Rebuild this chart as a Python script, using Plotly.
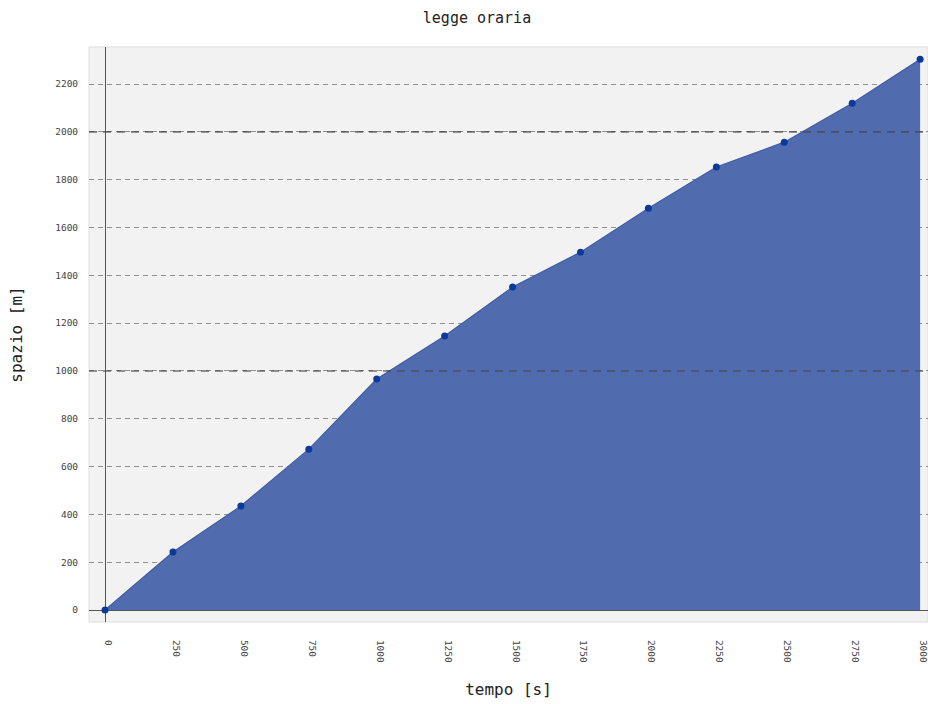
import plotly.graph_objects as go

tempo = [0, 250, 500, 750, 1000, 1250, 1500, 1750, 2000, 2250, 2500, 2750, 3000]
spazio = [0, 243, 435, 673, 966, 1146, 1351, 1497, 1681, 1853, 1957, 2120, 2304]
x_ticks = [0, 250, 500, 750, 1000, 1250, 1500, 1750, 2000, 2250, 2500, 2750, 3000]
y_ticks = [0, 200, 400, 600, 800, 1000, 1200, 1400, 1600, 1800, 2000, 2200]
major_lines = [1000, 2000]

mono = "DejaVu Sans Mono"
W, H = 928, 704

fig = go.Figure()
fig.add_trace(go.Scatter(
    x=tempo, y=spazio, mode="lines+markers",
    fill="tozeroy", fillcolor="rgb(80,108,174)",
    line=dict(color="rgb(62,92,168)", width=1.2),
    marker=dict(color="rgb(12,58,156)", size=7),
    showlegend=False, cliponaxis=False,
))

shapes = []
for v in major_lines:
    shapes.append(dict(type="line", xref="paper", x0=0, x1=1, yref="y", y0=v, y1=v,
                       line=dict(color="rgba(70,70,70,0.75)", width=1.6, dash="8px,6px"),
                       layer="above"))

fig.update_layout(
    width=W, height=H,
    margin=dict(l=89, r=0, t=47, b=82, autoexpand=False),
    paper_bgcolor="white", plot_bgcolor="rgb(242,242,242)",
    title=dict(text="legge oraria", x=477 / W, xanchor="center", xref="container",
               y=1 - 18 / H, yanchor="middle", yref="container",
               font=dict(family=mono, size=15, color="#222")),
    shapes=shapes,
)
fig.update_xaxes(
    range=[-59, 3029], tickvals=x_ticks, ticktext=[str(v) for v in x_ticks],
    tickangle=90, tickfont=dict(family=mono, size=9.5, color="#444"),
    ticklabelshift=3, ticklabeloverflow="allow",
    showgrid=False, zeroline=True, zerolinecolor="#555", zerolinewidth=1.2,
    ticks="outside", ticklen=15, tickcolor="rgba(0,0,0,0)",
    showline=False, layer="above traces", automargin=False,
    title=dict(text="tempo [s]", font=dict(family=mono, size=16, color="#222"), standoff=21),
)
fig.update_yaxes(
    range=[-50, 2355], tickvals=y_ticks, ticktext=[str(v) for v in y_ticks],
    tickfont=dict(family=mono, size=9.5, color="#444"),
    showgrid=True, gridcolor="rgba(120,120,120,0.8)", griddash="5px,4px", gridwidth=1,
    zeroline=True, zerolinecolor="#555", zerolinewidth=1.2,
    ticks="outside", ticklen=8, tickcolor="rgba(0,0,0,0)",
    showline=False, layer="above traces", automargin=False,
    title=dict(text="spazio [m]", font=dict(family=mono, size=16, color="#222"), standoff=28),
)
fig.add_shape(type="rect", xref="paper", yref="paper", x0=0, x1=1, y0=0, y1=1,
              line=dict(color="#dddddd", width=1), layer="below")

fig.write_html("out.html", config={"displayModeBar": False},
               post_script="document.body.style.margin='0';document.body.style.overflow='hidden';")
